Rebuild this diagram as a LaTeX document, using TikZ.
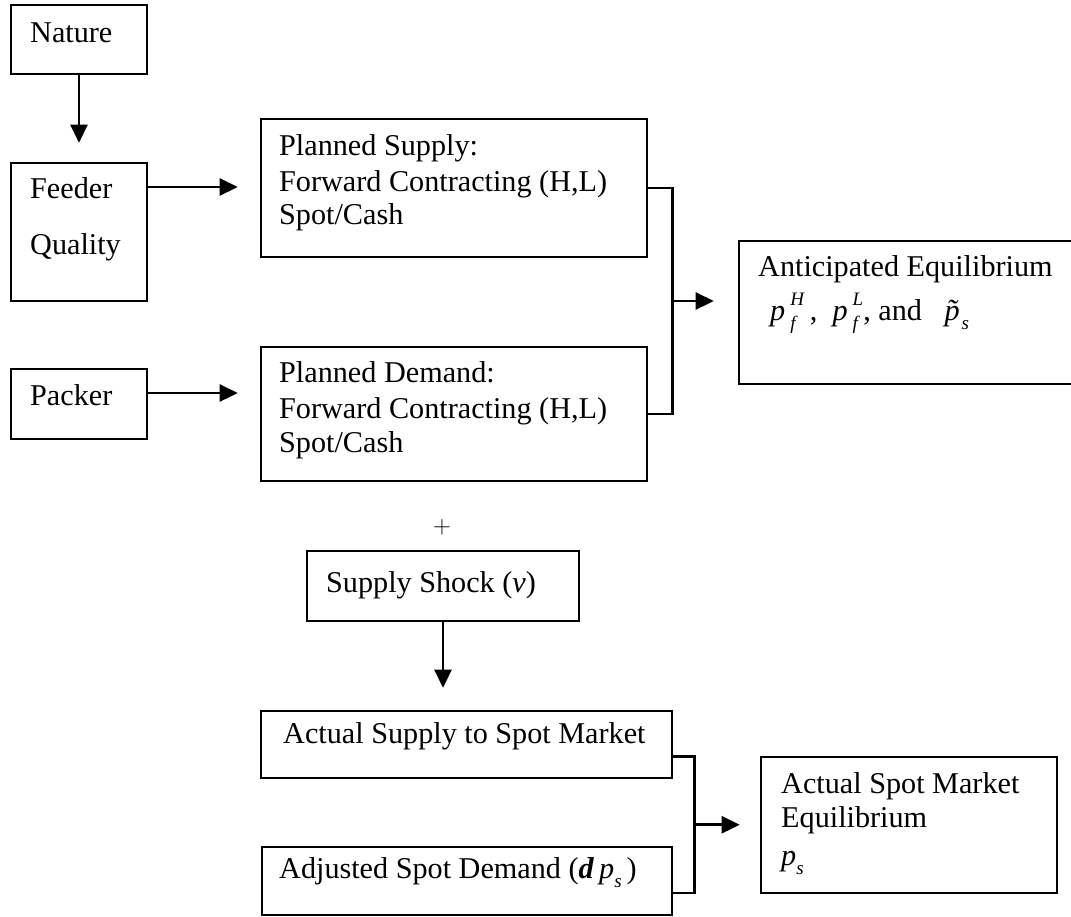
\documentclass[tikz,border=0pt]{standalone}
\usepackage{amsmath}
\usepackage{fontspec}
\setmainfont{Liberation Serif}
\usetikzlibrary{arrows.meta,calc}
\newcommand{\pfx}[1]{\textit{p}\,\rlap{\raisebox{-0.3em}{\fontsize{19pt}{19pt}\selectfont\textit{f}}}\raisebox{0.48em}{\fontsize{19pt}{19pt}\selectfont\textit{#1}}}
\newcommand{\subs}{\raisebox{-0.3em}{\fontsize{19pt}{19pt}\selectfont\textit{s}}}
\begin{document}
\begin{tikzpicture}[x=1pt,y=-1pt,
  box/.style={draw, line width=2.6pt, rectangle, inner sep=0pt},
  txt/.style={anchor=base west, inner sep=0pt, font=\fontsize{30.2pt}{35pt}\selectfont},
  arr/.style={line width=2.6pt, -{Triangle[length=18pt,width=17pt]}},
  ln/.style={line width=2.6pt}]
\useasboundingbox (0,0) rectangle (1071,916);
% boxes
\node[box, minimum width=136pt, minimum height=69pt] (nature) at (79,39.5) {};
\node[box, minimum width=136pt, minimum height=138pt] (feeder) at (79,232) {};
\node[box, minimum width=136pt, minimum height=70pt] (packer) at (79,404) {};
\node[box, minimum width=386pt, minimum height=138pt] (supply) at (454,188) {};
\node[box, minimum width=386pt, minimum height=134pt] (demand) at (454,414) {};
\node[box, minimum width=346pt, minimum height=143pt] (antic) at (912,312.5) {};
\node[box, minimum width=272pt, minimum height=70pt] (shock) at (443,586) {};
\node[box, minimum width=411pt, minimum height=67pt] (actual) at (466.5,744.5) {};
\node[box, minimum width=410pt, minimum height=68pt] (adjusted) at (467,881) {};
\node[box, minimum width=296pt, minimum height=136pt] (spot) at (909,825) {};
% texts
\node[txt] (tnature) at (30,42) {Nature};
\node[txt] (tfeeder1) at (30,198) {Feeder};
\node[txt] (tfeeder2) at (30,254) {Quality};
\node[txt] (tpacker) at (30,405) {Packer};
\node[txt] (ts1) at (279,155) {Planned Supply:};
\node[txt] (ts2) at (279,191) {Forward Contracting (H,L)};
\node[txt] (ts3) at (279,224) {Spot/Cash};
\node[txt] (td1) at (279,382) {Planned Demand:};
\node[txt] (td2) at (279,418) {Forward Contracting (H,L)};
\node[txt] (td3) at (279,452) {Spot/Cash};
\node[txt] (ta1) at (758,276) {Anticipated Equilibrium};
\node[txt] (ta2) at (770,320) {\pfx{H}\,,\ \ \pfx{L}, and\ \ \ \textit{\~{p}}\kern-10pt\subs};
\node[txt, anchor=center] (plus) at (442,527) {$+$};
\node[txt] (tshock) at (326,592) {Supply Shock (\textit{v})};
\node[txt] (tactual) at (283,743) {Actual Supply to Spot Market};
\node[txt] (tadj) at (279,878) {Adjusted Spot Demand (\textbf{\textit{d}}\,\textit{p}\subs\,)};
\node[txt] (tsp1) at (781,793) {Actual Spot Market};
\node[txt] (tsp2) at (781,827) {Equilibrium};
\node[txt] (tsp3) at (781,865) {\textit{p}\subs};
% connectors
\draw[arr, shorten >=19pt] (nature.south) -- (feeder.north);
\path ([yshift=45pt]feeder.east) coordinate (fq);
\draw[arr, shorten >=22pt] (fq) -- (fq -| supply.west);
\path ([yshift=11pt]packer.east) coordinate (pk);
\draw[arr, shorten >=22pt] (pk) -- (pk -| demand.west);
\path (supply.east) ++(24,0) coordinate (b1);
\draw[ln] (supply.east) -- (b1) |- (demand.east);
\coordinate (bm) at ($(b1)!0.5!(b1 |- demand.east)$);
\draw[arr, shorten >=24pt] (bm) -- (bm -| antic.west);
\draw[arr, shorten >=22pt] (shock.south) -- (shock.south |- actual.north);
\path ([yshift=-12pt]actual.east) coordinate (a1);
\path ([yshift=-12pt]adjusted.east) coordinate (a2);
\path (a1) ++(21,0) coordinate (b2);
\draw[ln] (a1) -- (b2) |- (a2);
\coordinate (bm2) at ($(b2)!0.5!(b2 |- a2)$);
\draw[arr, shorten >=20pt] (bm2) -- (bm2 -| spot.west);
\end{tikzpicture}
\end{document}
